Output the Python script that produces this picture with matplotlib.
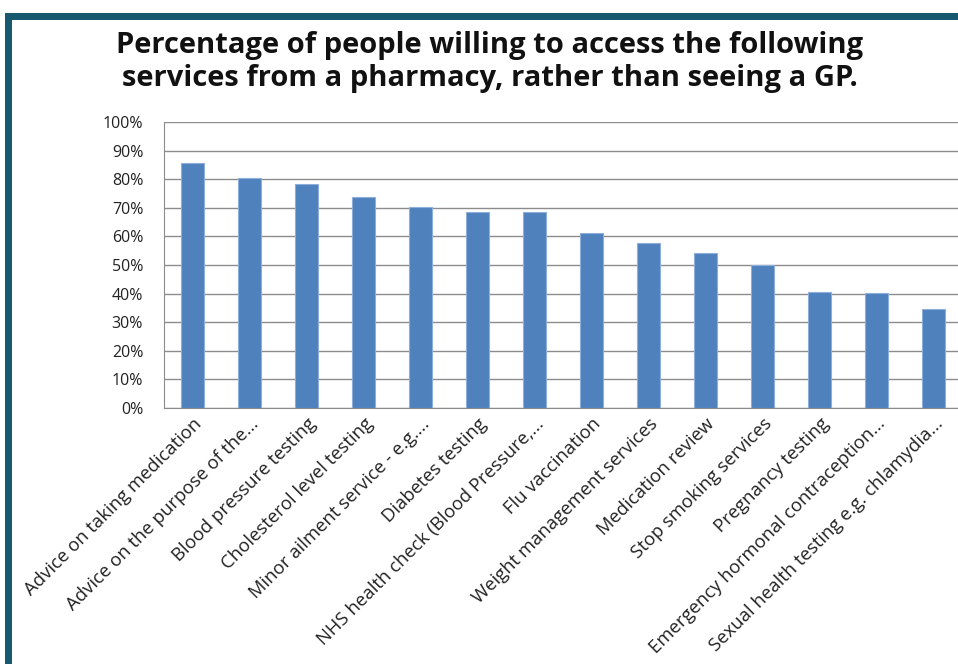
import matplotlib.pyplot as plt
from matplotlib.patches import Rectangle
from matplotlib.ticker import PercentFormatter

plt.rcParams['font.family'] = ['Open Sans', 'DejaVu Sans']

services = [
    'Advice on taking medication',
    'Advice on the purpose of the...',
    'Blood pressure testing',
    'Cholesterol level testing',
    'Minor ailment service - e.g....',
    'Diabetes testing',
    'NHS health check (Blood Pressure,...',
    'Flu vaccination',
    'Weight management services',
    'Medication review',
    'Stop smoking services',
    'Pregnancy testing',
    'Emergency hormonal contraception...',
    'Sexual health testing e.g. chlamydia...',
]
willing = [85.7, 80.4, 78.3, 73.8, 70.3, 68.5, 68.5, 61.2, 57.7, 54.2, 50.0, 40.6, 40.1, 34.5]

W, H = 958, 664
fig = plt.figure(figsize=(W / 100, H / 100), dpi=100)

# dark frame on top and left (the screenshot is cropped on the other sides)
frame = '#175a70'
fig.add_artist(Rectangle((5 / W, 0), 7 / W, 1 - 13 / H, transform=fig.transFigure,
                         color=frame, lw=0))
fig.add_artist(Rectangle((5 / W, 1 - 20 / H), 1, 7 / H, transform=fig.transFigure,
                         color=frame, lw=0))

ax = fig.add_axes([164 / W, 1 - 408 / H, 798 / W, 286 / H])

x = range(len(services))
ax.bar(x, willing, width=0.39, color='#4f81bd', edgecolor='#8eaedb', linewidth=0.8,
       zorder=3)

ax.set_xlim(-0.5, len(services) - 0.5)
ax.set_ylim(0, 100)
ax.set_yticks(range(0, 101, 10))
ax.yaxis.set_major_formatter(PercentFormatter(decimals=0))
ax.grid(axis='y', color='#8c8c8c', lw=1, zorder=0)

for side in ['top', 'right']:
    ax.spines[side].set_visible(False)
for side in ['left', 'bottom']:
    ax.spines[side].set_color('#8c8c8c')

ax.tick_params(axis='y', length=0, pad=15, labelsize=11.5, labelcolor='#222222')
ax.tick_params(axis='x', length=0, pad=5)
ax.set_xticks(list(x))
ax.set_xticklabels(services, rotation=45, ha='right', rotation_mode='anchor',
                   fontsize=13.3, color='#222222')

fig.text(490 / W, 1 - 62 / H,
         'Percentage of people willing to access the following\n'
         'services from a pharmacy, rather than seeing a GP.',
         ha='center', va='center', fontsize=21, fontweight='bold',
         linespacing=1.15, color='#111111')

fig.savefig('out.png', dpi=100)
